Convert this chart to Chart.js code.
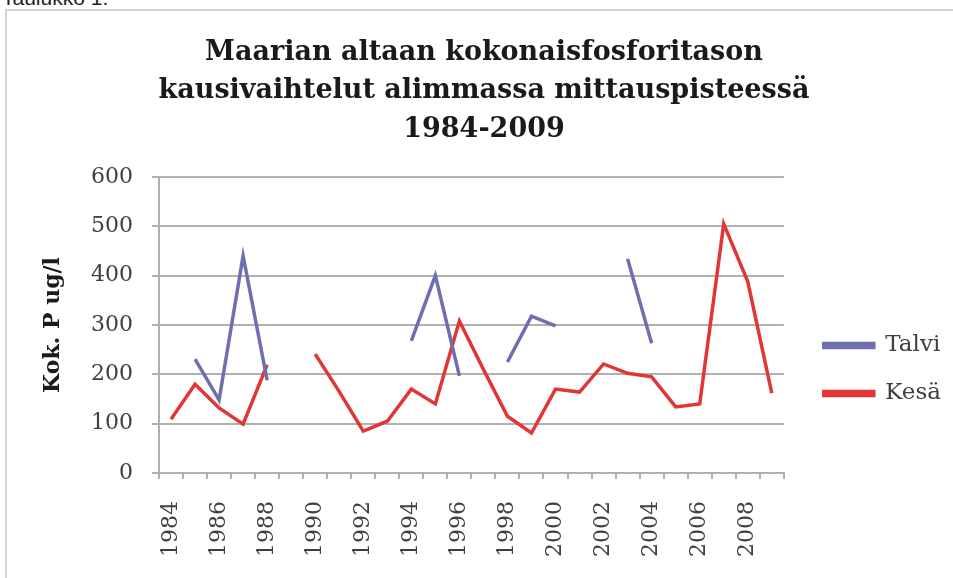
<!DOCTYPE html>
<html>
<head>
<meta charset="utf-8">
<script src="https://cdn.jsdelivr.net/npm/chart.js@4"></script>
<style>
  body { margin: 0; background: #fff; width: 953px; height: 578px; overflow: hidden; position: relative; }
  #caption { position: absolute; left: 2px; top: -14px; font: 21px "Liberation Sans", Arial, sans-serif; color: #222; }
  #frame { position: absolute; left: 5px; top: 9px; right: 0; bottom: 0; border-left: 2px solid #d2d2d2; border-top: 2px solid #d2d2d2; }
  #chart { position: absolute; left: 0; top: 0; }
</style>
</head>
<body>
<div id="caption">Taulukko 1.</div>
<div id="frame"></div>
<canvas id="chart" width="953" height="578"></canvas>
<script>
var years = ["1984", "1985", "1986", "1987", "1988", "1989", "1990", "1991", "1992",
  "1993", "1994", "1995", "1996", "1997", "1998", "1999", "2000", "2001", "2002",
  "2003", "2004", "2005", "2006", "2007", "2008", "2009"];

// talvi = winter, kesä = summer (null = no measurement)
var talvi = [null, 231, 148, 440, 188, null, null, null, null, null, 268, 400, 197,
  null, 225, 318, 298, null, null, 434, 263, null, null, null, null, null];
var kesa = [109, 180, 132, 99, 219, null, 241, 165, 85, 105, 170, 140, 308, 210,
  115, 81, 170, 164, 221, 202, 195, 134, 140, 505, 388, 162];

var titleLines = ["Maarian altaan kokonaisfosforitason",
  "kausivaihtelut alimmassa mittauspisteessä", "1984-2009"];

var serif = "'DejaVu Serif', 'Liberation Serif', serif";
var ctx = document.getElementById("chart").getContext("2d");

// move legend and title a little, like the excel layout
var nudge = {
  id: "nudge",
  afterLayout: function (chart) {
    var lg = chart.legend;
    lg.left += 15;
    lg.right += 15;
    lg.top += 69;
    lg.bottom += 69;
    chart.titleBlock.left += 11;
    chart.titleBlock.right += 11;
  },
};

new Chart(ctx, {
  type: "line",
  data: {
    labels: years,
    datasets: [
      {
        label: "Talvi",
        data: talvi,
        borderColor: "#6f6fb0",
        backgroundColor: "#6f6fb0",
        borderWidth: 3.5,
        pointRadius: 0,
        tension: 0,
        spanGaps: false,
      },
      {
        label: "Kesä",
        data: kesa,
        borderColor: "#e23636",
        backgroundColor: "#e23636",
        borderWidth: 3.5,
        pointRadius: 0,
        tension: 0,
        spanGaps: false,
      },
    ],
  },
  plugins: [nudge],
  options: {
    responsive: false,
    animation: false,
    layout: {
      padding: { top: 33, left: 10, right: 17, bottom: 10 },
    },
    plugins: {
      title: {
        display: true,
        text: titleLines,
        color: "#1a1a1a",
        font: { family: serif, size: 27, weight: "bold", lineHeight: 1.444 },
        padding: { top: 0, bottom: 27 },
      },
      legend: {
        position: "right",
        maxWidth: 158,
        labels: {
          boxWidth: 50,
          boxHeight: 4,
          padding: 25,
          color: "#404040",
          font: { family: serif, size: 23 },
        },
      },
      tooltip: { enabled: false },
    },
    scales: {
      x: {
        offset: true,
        grid: {
          offset: true,
          drawOnChartArea: false,
          drawTicks: true,
          tickLength: 6,
          color: "#b0b0b0",
          lineWidth: 2,
        },
        border: { color: "#b0b0b0", width: 2 },
        ticks: {
          autoSkip: false,
          maxRotation: 90,
          minRotation: 90,
          color: "#404040",
          padding: 22,
          font: { family: serif, size: 22 },
          callback: function (val, i) {
            return i % 2 === 0 ? years[i] : "";
          },
        },
        afterFit: function (scale) {
          scale.height = 95;
        },
      },
      y: {
        min: 0,
        max: 600,
        ticks: {
          stepSize: 100,
          color: "#404040",
          padding: 19,
          font: { family: serif, size: 22 },
        },
        grid: {
          color: "#b0b0b0",
          lineWidth: 2,
          tickLength: 7,
        },
        border: { color: "#b0b0b0", width: 2 },
        title: {
          display: true,
          text: "Kok. P ug/l",
          color: "#1a1a1a",
          padding: { top: 30, bottom: 4 },
          font: { family: serif, size: 22, weight: "bold" },
        },
        afterFit: function (scale) {
          scale.width = 149;
        },
      },
    },
  },
});
</script>
</body>
</html>
